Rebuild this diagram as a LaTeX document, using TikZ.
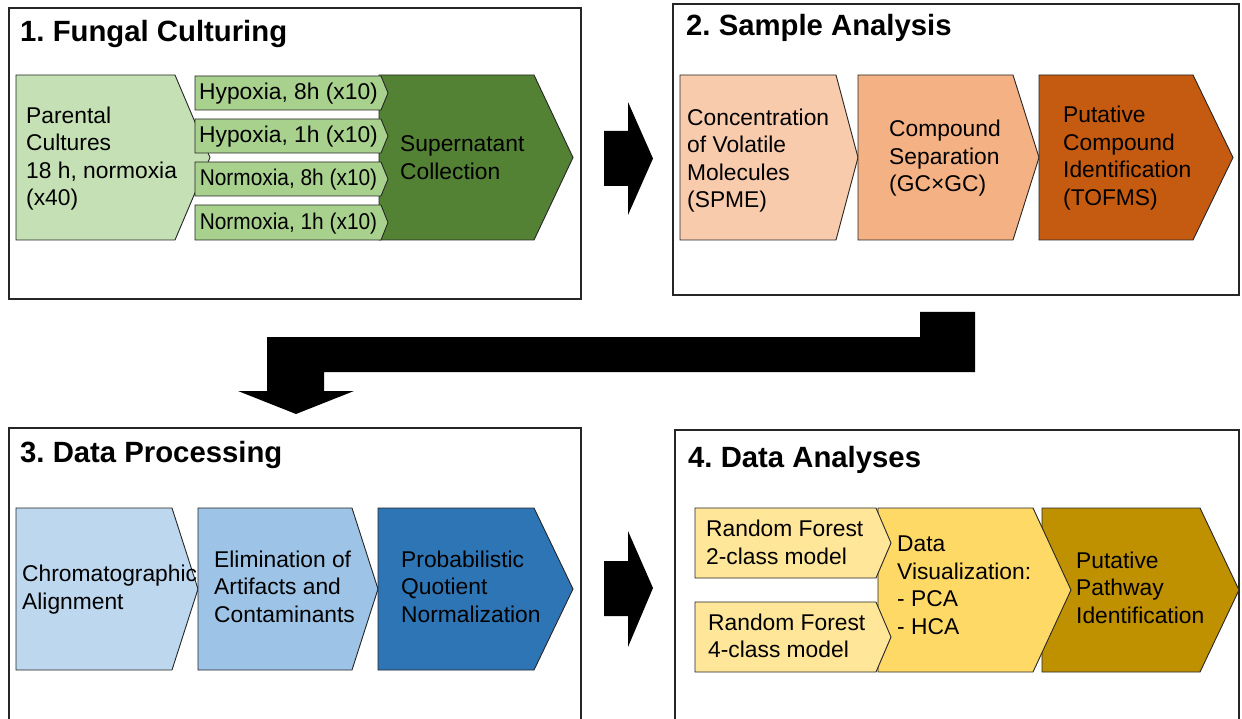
\documentclass[tikz,border=0pt]{standalone}
\usepackage{fontspec}
\setmainfont{Liberation Sans}
\usepackage{graphicx}
\frenchspacing
\definecolor{greenA}{HTML}{C5E0B4}
\definecolor{greenB}{HTML}{A9D18E}
\definecolor{greenC}{HTML}{548235}
\definecolor{orangeA}{HTML}{F8CBAD}
\definecolor{orangeB}{HTML}{F4B183}
\definecolor{orangeC}{HTML}{C55A11}
\definecolor{blueA}{HTML}{BDD7EE}
\definecolor{blueB}{HTML}{9DC3E6}
\definecolor{blueC}{HTML}{2E75B6}
\definecolor{goldA}{HTML}{FFE699}
\definecolor{goldB}{HTML}{FFD966}
\definecolor{goldC}{HTML}{BF9000}
\definecolor{edge}{HTML}{262626}
\tikzset{
  panel/.style={draw=edge, line width=1.4pt},
  chevstyle/.style={draw=edge, line width=0.9pt},
  body/.style={anchor=north west, inner sep=0pt, align=left, font=\fontsize{22.8}{27.5}\selectfont\frenchspacing},
  smalltext/.style={anchor=base, inner sep=0pt, font=\fontsize{22.8}{27.5}\selectfont\frenchspacing},
  title/.style={anchor=base west, inner sep=0pt, font=\fontsize{29.3}{34}\selectfont\bfseries\frenchspacing},
  blockarrow/.style={fill=black},
}
% #1 fill, #2 left x, #3 top y, #4 corner x, #5 tip x, #6 bottom y
\newcommand\chevron[6]{\path[chevstyle, fill=#1] (#2,#3) -- (#4,#3) -- (#5,{(#3+#6)/2}) -- (#4,#6) -- (#2,#6) -- cycle;}
\begin{document}
\begin{tikzpicture}[x=1pt,y=-1pt]
\useasboundingbox (0,0) rectangle (1242,719);
\clip (0,0) rectangle (1242,719);
\fill[white] (0,0) rectangle (1242,719);

% panels
\draw[panel] (9,8) rectangle (581,299);
\draw[panel] (673,4) rectangle (1239,295);
\draw[panel] (9,428) rectangle (581,740);
\draw[panel] (675,430) rectangle (1239,740);

% titles
\node[title] (t1) at (20,42) {1. Fungal Culturing};
\node[title] (t2) at (686,36) {2. Sample Analysis};
\node[title] (t3) at (20,462) {3. Data Processing};
\node[title] (t4) at (688,467) {4. Data Analyses};

% ---- panel 1
\chevron{greenA}{16}{75}{175}{210}{240}
\chevron{greenC}{379}{75}{534}{573}{240}
\chevron{greenB}{195}{76}{381}{388}{110}
\chevron{greenB}{195}{119}{381}{388}{153}
\chevron{greenB}{195}{162}{381}{388}{196}
\chevron{greenB}{195}{205}{381}{388}{240}
\node[body] (parental) at (26,103.75) {\strut Parental\\Cultures\\18 h, normoxia\\(x40)};
\node[smalltext] (h8) at (288.5,100) {Hypoxia, 8h (x10)};
\node[smalltext] (h1) at (288.5,143) {Hypoxia, 1h (x10)};
\node[smalltext] (n8) at (288.5,186) {\scalebox{0.915}[1]{Normoxia, 8h (x10)}};
\node[smalltext] (n1) at (288.5,229.5) {\scalebox{0.915}[1]{Normoxia, 1h (x10)}};
\node[body] (super) at (400,132.25) {\strut Supernatant\\Collection};

% ---- panel 2
\chevron{orangeA}{680}{75}{836}{858}{240}
\chevron{orangeB}{858}{75}{1013}{1039}{240}
\chevron{orangeC}{1039}{75}{1193}{1233}{240}
\node[body] (conc) at (687,105.75) {\strut Concentration\\of Volatile\\Molecules\\(SPME)};
\node[body] (sep) at (889,117.45) {\strut Compound\\Separation\\(GC×GC)};
\node[body] (ident) at (1063,103.45) {\strut Putative\\Compound\\Identification\\(TOFMS)};

% ---- panel 3
\chevron{blueA}{16}{508}{172}{198}{670}
\chevron{blueB}{198}{508}{352}{378}{670}
\chevron{blueC}{378}{508}{534}{573}{670}
\node[body] (chrom) at (22,562.45) {\strut Chromatographic\\Alignment};
\node[body] (elim) at (214,547.75) {\strut Elimination of\\Artifacts and\\Contaminants};
\node[body] (pqn) at (401,547.75) {\strut Probabilistic\\Quotient\\Normalization};

% ---- panel 4
\chevron{goldC}{1042}{508}{1200}{1239}{672}
\chevron{goldB}{878}{508}{1033}{1071}{672}
\chevron{goldA}{695}{508}{876}{891}{578}
\chevron{goldA}{695}{602}{876}{891}{672}
\node[body] (rf2) at (706,517.45) {\strut Random Forest\\2-class model};
\node[body] (rf4) at (708,610.75) {\strut Random Forest\\4-class model};
\node[body] (viz) at (897,532.45) {\strut Data\\Visualization:\\- PCA\\- HCA};
\node[body] (path) at (1076,548.75) {\strut Putative\\Pathway\\Identification};

% ---- block arrows
\fill[blockarrow] (604,131) -- (628,131) -- (628,102) -- (653,158.5) -- (628,215) -- (628,186) -- (604,186) -- cycle;
\fill[blockarrow] (604,561) -- (628,561) -- (628,531) -- (653,588) -- (628,647) -- (628,616) -- (604,616) -- cycle;
\fill[blockarrow] (920,312) -- (975,312) -- (975,372) -- (324,372) -- (324,391) -- (354,391)
  -- (296,414) -- (238,391) -- (267,391) -- (267,337) -- (920,337) -- cycle;
\end{tikzpicture}
\end{document}
